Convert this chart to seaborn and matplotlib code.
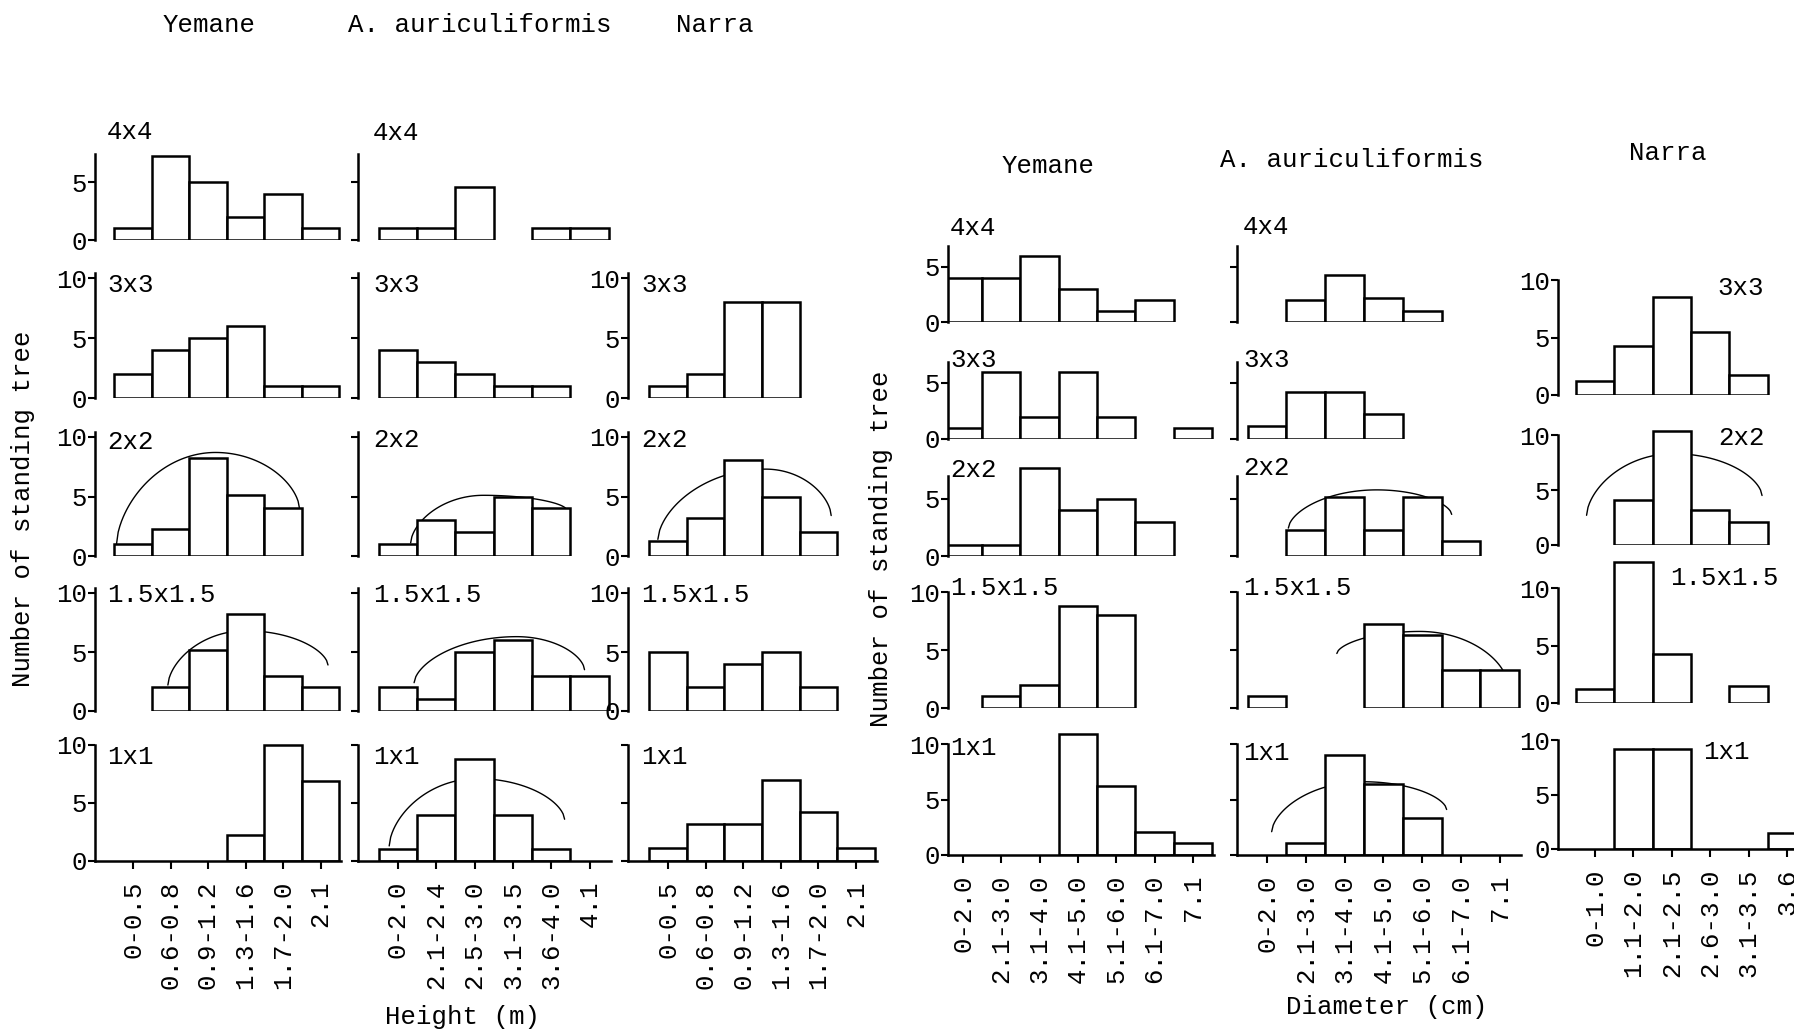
import numpy as np
import pandas as pd
import matplotlib
matplotlib.use("Agg")
import matplotlib.pyplot as plt
import seaborn as sns

W, H = 1794, 1031

# ---------------- data ----------------
spacings = ["4x4", "3x3", "2x2", "1.5x1.5", "1x1"]

# Height classes (m)
height_cats_yemane = ["0-0.5", "0.6-0.8", "0.9-1.2", "1.3-1.6", "1.7-2.0", "2.1"]
height_cats_auric = ["0-2.0", "2.1-2.4", "2.5-3.0", "3.1-3.5", "3.6-4.0", "4.1"]
height_cats_narra = ["0-0.5", "0.6-0.8", "0.9-1.2", "1.3-1.6", "1.7-2.0", "2.1"]

h_yemane_4x4 = [1, 7.2, 5, 2, 4, 1]
h_yemane_3x3 = [2, 4, 5, 6, 1, 1]
h_yemane_2x2 = [1, 2.3, 8.2, 5.1, 4, 0]
h_yemane_15 = [0, 2, 5.2, 8.2, 3, 2]
h_yemane_1x1 = [0, 0, 0, 2.2, 10, 6.9]

h_auric_4x4 = [1, 1, 4.6, 0, 1, 1]
h_auric_3x3 = [4, 3, 2, 1, 1, 0]
h_auric_2x2 = [1, 3, 2, 5, 4, 0]
h_auric_15 = [2, 1, 5, 6, 3, 3]
h_auric_1x1 = [1, 4, 8.8, 4, 1, 0]

h_narra_3x3 = [1, 2, 8, 8, 0, 0]
h_narra_2x2 = [1.3, 3.2, 8.1, 5, 2, 0]
h_narra_15 = [5, 2, 4, 5, 2, 0]
h_narra_1x1 = [1.1, 3.2, 3.2, 7, 4.2, 1.1]

# Diameter classes (cm)
diam_cats_yemane = ["0-2.0", "2.1-3.0", "3.1-4.0", "4.1-5.0", "5.1-6.0", "6.1-7.0", "7.1"]
diam_cats_auric = ["0-2.0", "2.1-3.0", "3.1-4.0", "4.1-5.0", "5.1-6.0", "6.1-7.0", "7.1"]
diam_cats_narra = ["0-1.0", "1.1-2.0", "2.1-2.5", "2.6-3.0", "3.1-3.5", "3.6"]

d_yemane_4x4 = [4, 4, 6, 3, 1, 2, 0]
d_yemane_3x3 = [1, 6, 2, 6, 2, 0, 1]
d_yemane_2x2 = [1, 1, 7.7, 4, 5, 3, 0]
d_yemane_15 = [0, 1, 2, 8.8, 8, 0, 0]
d_yemane_1x1 = [0, 0, 0, 10.9, 6.2, 2.1, 1.1]

d_auric_4x4 = [0, 2, 4.3, 2.2, 1, 0, 0]
d_auric_3x3 = [1.2, 4.2, 4.2, 2.2, 0, 0, 0]
d_auric_2x2 = [0, 2.3, 5.2, 2.3, 5.2, 1.3, 0]
d_auric_15 = [1, 0, 0, 7.2, 6.3, 3.3, 3.3]
d_auric_1x1 = [0, 1.1, 9, 6.4, 3.3, 0, 0]

d_narra_3x3 = [1.2, 4.3, 8.5, 5.5, 1.7, 0]
d_narra_2x2 = [0, 4.1, 10.4, 3.2, 2.1, 0]
d_narra_15 = [1.2, 12.3, 4.3, 0, 1.5, 0]
d_narra_1x1 = [0, 9.2, 9.2, 0, 0, 1.5]

# fitted curves: (start, peak, end) points in (class index, count)
curve_h_yemane_2x2 = [(-0.44, 1.0), (2.2, 8.7), (4.44, 4.0)]
curve_h_yemane_15 = [(0.93, 2.2), (3.0, 6.8), (5.2, 3.9)]
curve_h_auric_2x2 = [(0.33, 1.1), (2.23, 5.1), (4.4, 3.9)]
curve_h_auric_15 = [(0.42, 2.4), (3.1, 6.3), (4.87, 3.5)]
curve_h_auric_1x1 = [(-0.23, 1.3), (2.06, 7.1), (4.35, 3.6)]
curve_h_narra_2x2 = [(-0.27, 1.4), (2.6, 7.3), (4.34, 3.4)]
curve_d_auric_2x2 = [(0.55, 2.45), (2.83, 5.8), (4.76, 3.65)]
curve_d_auric_15 = [(1.8, 4.7), (3.94, 6.6), (6.2, 2.1)]
curve_d_auric_1x1 = [(0.12, 2.1), (2.48, 6.6), (4.63, 4.1)]
curve_d_narra_2x2 = [(-0.22, 2.7), (2.04, 8.3), (4.35, 4.5)]

# ---------------- style ----------------
sns.set_theme(style="white")
FONT = ["Liberation Mono", "DejaVu Sans Mono"]
plt.rcParams["font.family"] = FONT
FS = 18.5
LW = 1.8

fig = plt.figure(figsize=(W / 100, H / 100), dpi=100)


def px(x, y):
    return x / W, 1 - y / H


def arc(ax, pts):
    (x0, y0), (xp, yp), (x1, y1) = pts
    p = 0.6
    xa = np.linspace(x0, xp, 60)
    t = (xa - x0) / (xp - x0)
    ya = y0 + (yp - y0) * (1 - (1 - t) ** 2) ** p
    xb = np.linspace(xp, x1, 60)
    t = (xb - xp) / (x1 - xp)
    yb = y1 + (yp - y1) * (1 - t ** 2) ** p
    ax.plot(np.r_[xa, xb], np.r_[ya, yb], color="black", lw=1.0, zorder=0.5)


def panel(cats, vals, spine_x, bin0_x, step, xmax, zero_y, unit, spine_top,
          ylabels, bottom, curve=None):
    xl = -(bin0_x - spine_x) / step
    ytop = max(spine_top, max(vals) + 0.3)
    ax = fig.add_axes([spine_x / W, 1 - zero_y / H,
                       (xmax - xl) * step / W, ytop * unit / H])
    ax.set_facecolor("none")
    df = pd.DataFrame({"cls": cats, "n": vals})
    df = df[df["n"] > 0]
    sns.barplot(data=df, x="cls", y="n", order=cats, ax=ax, width=1.0,
                color="white", edgecolor="black", linewidth=LW,
                saturation=1, errorbar=None, zorder=1)
    if curve is not None:
        arc(ax, curve)
    ax.set_xlim(xl, xmax)
    ax.set_ylim(0, ytop)
    ax.set_xlabel("")
    ax.set_ylabel("")
    for s in ["top", "right"]:
        ax.spines[s].set_visible(False)
    ax.spines["left"].set_bounds(0, spine_top)
    ax.spines["left"].set_linewidth(LW)
    ax.spines["left"].set_color("black")
    yt = [v for v in (0, 5, 10) if v <= spine_top + 0.01]
    ax.set_yticks(yt)
    ax.set_yticklabels([str(v) for v in yt] if ylabels else [""] * len(yt),
                       fontsize=FS)
    ax.tick_params(axis="y", direction="out", length=5, width=1.5,
                   pad=1, left=True, colors="black")
    if bottom:
        ax.spines["bottom"].set_linewidth(LW)
        ax.spines["bottom"].set_color("black")
        ax.set_xticks(range(len(cats)))
        ax.set_xticklabels(cats, rotation=90, fontsize=FS)
        ax.tick_params(axis="x", direction="out", length=6, width=1.5,
                       pad=8, bottom=True, colors="black")
    else:
        ax.spines["bottom"].set_visible(False)
        ax.set_xticks([])
    return ax


# ---------------- left group: height ----------------
L_rows_zero = [240, 398, 556, 711, 861]
L_units = [11.6, 12.0, 11.9, 11.8, 11.6]
L_tops = [7.4, 10.4, 10.4, 10.4, 10.0]

left_cols = [
    (height_cats_yemane, [h_yemane_4x4, h_yemane_3x3, h_yemane_2x2, h_yemane_15, h_yemane_1x1],
     [None, None, curve_h_yemane_2x2, curve_h_yemane_15, None],
     95, 133, 37.5, [True] * 5),
    (height_cats_auric, [h_auric_4x4, h_auric_3x3, h_auric_2x2, h_auric_15, h_auric_1x1],
     [None, None, curve_h_auric_2x2, curve_h_auric_15, curve_h_auric_1x1],
     358, 398, 38.3, [False] * 5),
    (height_cats_narra, [None, h_narra_3x3, h_narra_2x2, h_narra_15, h_narra_1x1],
     [None, None, curve_h_narra_2x2, None, None],
     628, 668, 37.6, [False, True, True, True, False]),
]
for cats, series, curves, sx, b0, st, labs in left_cols:
    for r in range(5):
        if series[r] is None:
            continue
        panel(cats, series[r], sx, b0, st, 5.55, L_rows_zero[r], L_units[r],
              L_tops[r], labs[r], r == 4, curves[r])

# ---------------- right group: diameter ----------------
R_rows_zero = [322, 439, 556, 708, 855]
R_units = [11.0, 11.2, 11.4, 11.6, 11.1]
R_tops = [6.9, 6.9, 7.0, 10.0, 10.0]
N_rows_zero = [395, 545, 703, 849]
N_units = [11.5, 11.0, 11.5, 10.9]

right_cols = [
    (diam_cats_yemane, [d_yemane_4x4, d_yemane_3x3, d_yemane_2x2, d_yemane_15, d_yemane_1x1],
     [None] * 5, 948, 963, 38.3, True),
    (diam_cats_auric, [d_auric_4x4, d_auric_3x3, d_auric_2x2, d_auric_15, d_auric_1x1],
     [None, None, curve_d_auric_2x2, curve_d_auric_15, curve_d_auric_1x1],
     1237, 1267, 38.8, False),
]
for cats, series, curves, sx, b0, st, labs in right_cols:
    for r in range(5):
        panel(cats, series[r], sx, b0, st, 6.55, R_rows_zero[r], R_units[r],
              R_tops[r], labs, r == 4, curves[r])

narra_d = [d_narra_3x3, d_narra_2x2, d_narra_15, d_narra_1x1]
narra_c = [None, curve_d_narra_2x2, None, None]
for r in range(4):
    panel(diam_cats_narra, narra_d[r], 1558, 1595, 38.4, 5.55, N_rows_zero[r],
          N_units[r], 10.0, True, r == 3, narra_c[r])

# ---------------- texts ----------------
def txt(x, y, s, **kw):
    kw.setdefault("fontsize", FS)
    kw.setdefault("ha", "left")
    kw.setdefault("va", "center")
    fig.text(*px(x, y), s, color="black", **kw)

# headers
txt(209, 25, "Yemane", ha="center")
txt(480, 25, "A. auriculiformis", ha="center")
txt(715, 25, "Narra", ha="center")
txt(1048, 166, "Yemane", ha="center")
txt(1352, 160, "A. auriculiformis", ha="center")
txt(1668, 153, "Narra", ha="center")

# panel labels (left group)
for x0, rows in [(107, [132, 285, 442, 595, 757]),
                 (373, [133, 285, 440, 595, 757])]:
    for s, y in zip(spacings, rows):
        txt(x0, y, s)
for s, y in zip(spacings[1:], [285, 440, 595, 757]):
    txt(641, y, s)

# panel labels (right group)
for x0, rows in [(950, [228, 360, 470, 588, 748]),
                 (1243, [227, 360, 468, 588, 753])]:
    for s, y in zip(spacings, rows):
        txt(x0, y, s)
for s, (x, y) in zip(spacings[1:], [(1717, 288), (1718, 438), (1670, 578), (1703, 752)]):
    txt(x, y, s)

# axis titles
txt(23, 509, "Number of standing tree", rotation=90, ha="center")
txt(881, 549, "Number of standing tree", rotation=90, ha="center")
txt(462, 1017, "Height (m)", ha="center")
txt(1387, 1007, "Diameter (cm)", ha="center")

fig.savefig("out.png", dpi=100, facecolor="white")
